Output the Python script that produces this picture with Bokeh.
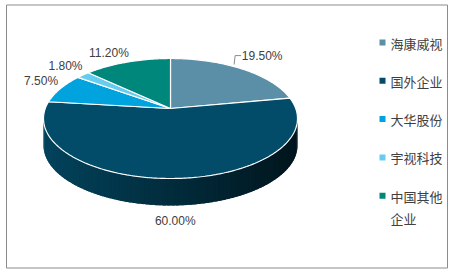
import math
from bokeh.plotting import figure
from bokeh.models import Range1d
from bokeh.core.properties import value
from bokeh.embed import file_html
from bokeh.resources import INLINE

# ---- data ----
names = ["海康威视", "国外企业", "大华股份", "宇视科技", "中国其他企业"]
shares = [19.5, 60.0, 7.5, 1.8, 11.2]
colors = ["#5B8FA7", "#024C69", "#00A3DD", "#66CCF0", "#00877B"]

# ---- geometry / style ----
W, H = 453, 272
cx, cy = 170.0, 118.0
rx, ry = 127.0, 60.0
depth = 27.0
apex = (170.0, 108.0)

p = figure(width=W, height=H, x_range=Range1d(0, W), y_range=Range1d(H, 0),
           output_backend="svg", toolbar_location=None, min_border=0)
p.axis.visible = False
p.grid.visible = False
p.outline_line_color = None
p.background_fill_color = "white"
p.border_fill_color = "white"


def ell(t_deg, k=1.0, dy=0.0):
    t = math.radians(t_deg)
    return cx + rx * k * math.sin(t), cy - ry * k * math.cos(t) + dy


def lerp_col(c1, c2, f):
    a = [int(c1[i:i + 2], 16) for i in (1, 3, 5)]
    b = [int(c2[i:i + 2], 16) for i in (1, 3, 5)]
    return "#%02x%02x%02x" % tuple(int(round(a[j] + (b[j] - a[j]) * f)) for j in range(3))


total = sum(shares)
starts, ends = [], []
acc = 0.0
for v in shares:
    starts.append(acc / total * 360.0)
    acc += v
    ends.append(acc / total * 360.0)

# ---- side (front half of the rim), shaded strips ----
n = 90
xs_side, ys_side, cs_side = [], [], []
for i in range(n):
    t0 = 90 + 180.0 * i / n
    t1 = min(270.0, 90 + 180.0 * (i + 1.8) / n)  # overlap to avoid seams
    tm = 90 + 180.0 * (i + 0.5) / n
    idx = next(j for j in range(len(shares)) if starts[j] <= tm < ends[j])
    pts = [ell(t0 + (t1 - t0) * k / 3) for k in range(4)]
    xs = [q[0] for q in pts] + [q[0] for q in reversed(pts)]
    ys = [q[1] for q in pts] + [q[1] + depth for q in reversed(pts)]
    xs_side.append(xs)
    ys_side.append(ys)
    xm = ell(tm)[0]
    frac = (xm - (cx - rx)) / (2 * rx)
    base_l = lerp_col(colors[idx], "#000000", 0.12)
    base_r = lerp_col(colors[idx], "#000000", 0.72)
    cs_side.append(lerp_col(base_l, base_r, frac))
p.patches(xs_side, ys_side, fill_color=cs_side, line_color=None)

# ---- top face ----
xs_top, ys_top = [], []
for s, e in zip(starts, ends):
    steps = max(2, int((e - s) / 1.0))
    px, py = [apex[0]], [apex[1]]
    for k in range(steps + 1):
        x, y = ell(s + (e - s) * k / steps)
        px.append(x)
        py.append(y)
    xs_top.append(px)
    ys_top.append(py)
p.patches(xs_top, ys_top, fill_color=colors, line_color="white", line_width=1.2)

# ---- data labels ----
lx, ly, lt = [], [], []
for s, e, v in zip(starts, ends, shares):
    m = (s + e) / 2
    x, y = ell(m, 1.2)
    if math.cos(math.radians(m)) < 0:
        y += depth + 4
    lx.append(x)
    ly.append(y)
    lt.append("%.2f%%" % v)
lx[0] += 4
ly[0] -= 4
lx[2] += 3
ly[2] -= 2
lx[4] -= 9
ly[4] += 2
p.text(lx, ly, text=lt, text_align="center", text_baseline="middle",
       text_font=value("Liberation Sans"), text_font_size="12px", text_color="#404040")

# leader line for first label
m0 = (starts[0] + ends[0]) / 2
sx, sy = ell(m0 - 6, 1.03)
p.line([sx, sx + 1, lx[0] - 21], [sy, ly[0], ly[0]], line_color="#8c8c8c", line_width=1)

# ---- legend ----
leg_y = [42 + 38.3 * i for i in range(len(names))]
leg_txt = [nm if len(nm) <= 4 else nm[:4] + "\n" + nm[4:] for nm in names]
p.rect([382] * len(names), leg_y, width=6, height=6, fill_color=colors, line_color=None)
p.text([390] * len(names), [y - 9 for y in leg_y], text=leg_txt, text_align="left",
       text_baseline="top", text_font=value("Noto Sans CJK SC"), text_font_size="13px",
       text_color="#404040", text_line_height=1.2)

# ---- chart border ----
p.quad(left=[6], right=[447], top=[4.5], bottom=[267.5], fill_color=None,
       line_color="#8c8c8c", line_width=1)

open("out.html", "w").write(file_html(p, INLINE))
